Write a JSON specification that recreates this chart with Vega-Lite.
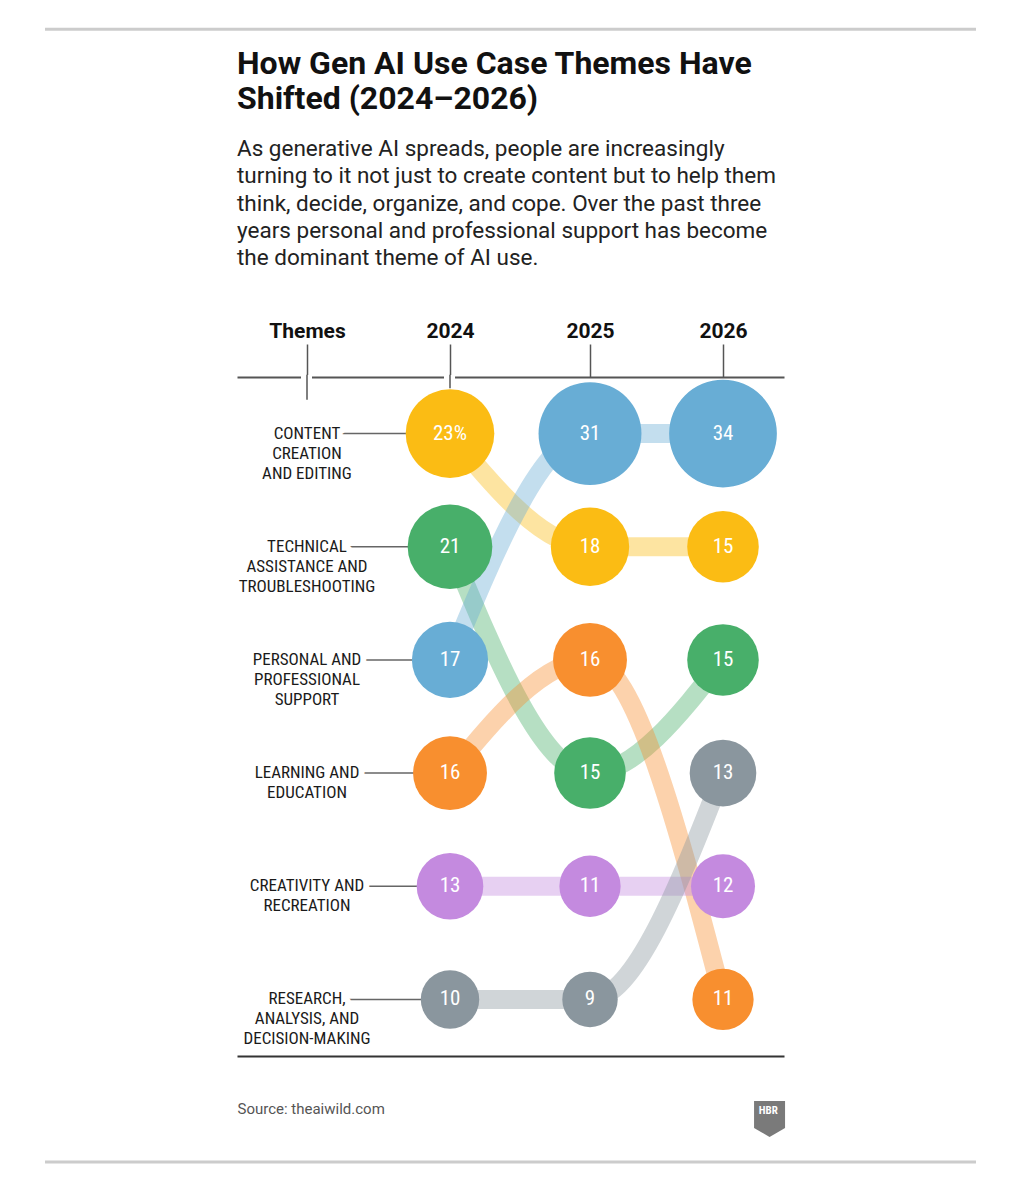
{
  "$schema": "https://vega.github.io/schema/vega-lite/v6.json",
  "width": 547,
  "height": 679,
  "autosize": {"type": "none"},
  "padding": {"left": 237, "top": 377, "right": 245, "bottom": 144},
  "background": "white",
  "config": {"view": {"stroke": null}, "font": "Roboto"},
  "title": {
    "text": ["How Gen AI Use Case Themes Have", "Shifted (2024–2026)"],
    "subtitle": ["As generative AI spreads, people are increasingly", "turning to it not just to create content but to help them", "think, decide, organize, and cope. Over the past three", "years personal and professional support has become", "the dominant theme of AI use."],
    "anchor": "start",
    "frame": "group",
    "orient": "top",
    "font": "Roboto",
    "fontSize": 32,
    "fontWeight": "bold",
    "color": "#111111",
    "lineHeight": 35,
    "subtitleFont": "Roboto",
    "subtitleFontSize": 22.5,
    "subtitleColor": "#222222",
    "subtitleLineHeight": 27.25,
    "subtitlePadding": 22,
    "offset": -243
  },
  "datasets": {
    "values": [
      {"theme": "Content creation and editing", "year": 2024, "rank": 1, "value": 23, "label": "23%"},
      {"theme": "Content creation and editing", "year": 2025, "rank": 2, "value": 18, "label": "18"},
      {"theme": "Content creation and editing", "year": 2026, "rank": 2, "value": 15, "label": "15"},
      {"theme": "Technical assistance and troubleshooting", "year": 2024, "rank": 2, "value": 21, "label": "21"},
      {"theme": "Technical assistance and troubleshooting", "year": 2025, "rank": 4, "value": 15, "label": "15"},
      {"theme": "Technical assistance and troubleshooting", "year": 2026, "rank": 3, "value": 15, "label": "15"},
      {"theme": "Personal and professional support", "year": 2024, "rank": 3, "value": 17, "label": "17"},
      {"theme": "Personal and professional support", "year": 2025, "rank": 1, "value": 31, "label": "31"},
      {"theme": "Personal and professional support", "year": 2026, "rank": 1, "value": 34, "label": "34"},
      {"theme": "Learning and education", "year": 2024, "rank": 4, "value": 16, "label": "16"},
      {"theme": "Learning and education", "year": 2025, "rank": 3, "value": 16, "label": "16"},
      {"theme": "Learning and education", "year": 2026, "rank": 6, "value": 11, "label": "11"},
      {"theme": "Creativity and recreation", "year": 2024, "rank": 5, "value": 13, "label": "13"},
      {"theme": "Creativity and recreation", "year": 2025, "rank": 5, "value": 11, "label": "11"},
      {"theme": "Creativity and recreation", "year": 2026, "rank": 5, "value": 12, "label": "12"},
      {"theme": "Research, analysis, and decision-making", "year": 2024, "rank": 6, "value": 10, "label": "10"},
      {"theme": "Research, analysis, and decision-making", "year": 2025, "rank": 6, "value": 9, "label": "9"},
      {"theme": "Research, analysis, and decision-making", "year": 2026, "rank": 4, "value": 13, "label": "13"}
    ],
    "rows": [
      {"rank": 1, "name": "CONTENT\nCREATION\nAND EDITING"},
      {"rank": 2, "name": "TECHNICAL\nASSISTANCE AND\nTROUBLESHOOTING"},
      {"rank": 3, "name": "PERSONAL AND\nPROFESSIONAL\nSUPPORT"},
      {"rank": 4, "name": "LEARNING AND\nEDUCATION"},
      {"rank": 5, "name": "CREATIVITY AND\nRECREATION"},
      {"rank": 6, "name": "RESEARCH,\nANALYSIS, AND\nDECISION-MAKING"}
    ]
  },
  "resolve": {"axis": {"x": "independent"}},
  "layer": [
    {
      "data": {"name": "values"},
      "mark": {"type": "line", "interpolate": "monotone", "strokeWidth": 19, "opacity": 0.4, "strokeJoin": "round"},
      "encoding": {
        "x": {
          "field": "year", "type": "quantitative",
          "scale": {"domain": [2022.5105, 2023, 2024, 2025, 2026, 2026.4586], "range": [0, 70, 213, 353, 486, 547], "zero": false, "nice": false},
          "axis": {
            "orient": "top", "values": [2023, 2024, 2025, 2026],
            "labelExpr": "datum.value == 2023 ? 'Themes' : format(datum.value, 'd')",
            "labelFont": "Roboto", "labelFontSize": 21, "labelFontWeight": "bold", "labelColor": "#111111",
            "labelPadding": 3, "labelFlush": false, "labelBound": false, "labelOverlap": false,
            "tickSize": 33, "tickColor": "#555555", "tickWidth": 1.5,
            "domainColor": "#555555", "domainWidth": 2, "grid": false, "title": null
          }
        },
        "y": {
          "field": "rank", "type": "quantitative",
          "scale": {"domain": [0.5, 6.5], "reverse": true, "nice": false, "zero": false},
          "axis": {
            "values": [1.5, 2.5, 3.5, 4.5, 5.5], "grid": true, "gridDash": [2, 3], "gridColor": "#999999", "gridWidth": 1.3,
            "labels": false, "ticks": false, "domain": false, "title": null
          }
        },
        "color": {
          "field": "theme", "type": "nominal", "legend": null,
          "scale": {
            "domain": ["Content creation and editing", "Technical assistance and troubleshooting", "Personal and professional support", "Learning and education", "Creativity and recreation", "Research, analysis, and decision-making"],
            "range": ["#FBBC14", "#48AF6A", "#68ADD5", "#F88F2F", "#C48ADF", "#8A969E"]
          }
        },
        "order": {"field": "year"}
      }
    },
    {
      "data": {"name": "rows"},
      "mark": {"type": "rule", "color": "#666666", "strokeWidth": 1.5},
      "encoding": {
        "x": {"datum": 2023, "type": "quantitative", "axis": null},
        "x2": {"datum": 2024},
        "y": {"field": "rank", "type": "quantitative", "axis": null}
      }
    },
    {
      "data": {"values": [{}]},
      "mark": {"type": "rule", "color": "white", "strokeWidth": 4},
      "encoding": {
        "x": {"datum": 2022.958, "type": "quantitative", "axis": null},
        "x2": {"datum": 2023.035},
        "y": {"datum": 0.5, "type": "quantitative", "axis": null}
      }
    },
    {
      "data": {"values": [{}]},
      "mark": {"type": "rule", "color": "white", "strokeWidth": 4},
      "encoding": {
        "x": {"datum": 2023.958, "type": "quantitative", "axis": null},
        "x2": {"datum": 2024.036},
        "y": {"datum": 0.5, "type": "quantitative", "axis": null}
      }
    },
    {
      "data": {"values": [{}]},
      "mark": {"type": "rule", "color": "#555555", "strokeWidth": 1.5},
      "encoding": {
        "x": {"datum": 2023, "type": "quantitative", "axis": null},
        "y": {"datum": 0.48, "type": "quantitative", "axis": null},
        "y2": {"datum": 0.7}
      }
    },
    {
      "data": {"values": [{}]},
      "mark": {"type": "rule", "color": "#555555", "strokeWidth": 1.5},
      "encoding": {
        "x": {"datum": 2024, "type": "quantitative", "axis": null},
        "y": {"datum": 0.48, "type": "quantitative", "axis": null},
        "y2": {"datum": 0.6}
      }
    },
    {
      "data": {"name": "values"},
      "mark": {"type": "point", "filled": true, "opacity": 1, "shape": "circle", "strokeWidth": 0},
      "encoding": {
        "x": {
          "field": "year", "type": "quantitative",
          "axis": {
            "orient": "bottom", "labels": false, "ticks": false, "grid": false, "domain": true,
            "domainColor": "#333333", "domainWidth": 2,
            "title": "Source: theaiwild.com", "titleAnchor": "start", "titleAlign": "left", "titleX": 0, "titleY": 57,
            "titleBaseline": "alphabetic", "titleFont": "Roboto", "titleFontSize": 15, "titleFontWeight": "normal", "titleColor": "#555555"
          }
        },
        "y": {"field": "rank", "type": "quantitative", "axis": null},
        "size": {"field": "value", "type": "quantitative", "legend": null, "scale": {"type": "linear", "domain": [0, 23], "range": [0, 7854], "zero": true}},
        "color": {"field": "theme", "type": "nominal", "legend": null}
      }
    },
    {
      "data": {"name": "values"},
      "mark": {"type": "text", "color": "white", "fontSize": 21, "font": "Roboto Condensed, Liberation Sans Narrow, DejaVu Sans Condensed, Roboto", "align": "center", "baseline": "middle"},
      "encoding": {
        "x": {"field": "year", "type": "quantitative", "axis": null},
        "y": {"field": "rank", "type": "quantitative", "axis": null},
        "text": {"field": "label"}
      }
    },
    {
      "data": {"name": "rows"},
      "mark": {"type": "text", "color": "white", "stroke": "white", "strokeWidth": 12, "strokeJoin": "round", "fontSize": 17, "lineHeight": 20, "lineBreak": "\n", "font": "Roboto Condensed, Liberation Sans Narrow, DejaVu Sans Condensed, Roboto", "align": "center", "baseline": "middle"},
      "encoding": {
        "x": {"datum": 2023, "type": "quantitative", "axis": null},
        "y": {"field": "rank", "type": "quantitative", "axis": null},
        "text": {"field": "name"}
      }
    },
    {
      "data": {"name": "rows"},
      "mark": {"type": "text", "color": "#1a1a1a", "fontSize": 17, "lineHeight": 20, "lineBreak": "\n", "font": "Roboto Condensed, Liberation Sans Narrow, DejaVu Sans Condensed, Roboto", "align": "center", "baseline": "middle"},
      "encoding": {
        "x": {"datum": 2023, "type": "quantitative", "axis": null},
        "y": {"field": "rank", "type": "quantitative", "axis": null},
        "text": {"field": "name"}
      }
    },
    {
      "data": {"values": [{}]},
      "mark": {"type": "rule", "color": "#cccccc", "strokeWidth": 3},
      "encoding": {
        "x": {"datum": 2021.168, "type": "quantitative", "axis": null},
        "x2": {"datum": 2027.902},
        "y": {"datum": -2.574, "type": "quantitative", "axis": null}
      }
    },
    {
      "data": {"values": [{}]},
      "mark": {"type": "rule", "color": "#cccccc", "strokeWidth": 3},
      "encoding": {
        "x": {"datum": 2021.168, "type": "quantitative", "axis": null},
        "x2": {"datum": 2027.902},
        "y": {"datum": 7.436, "type": "quantitative", "axis": null}
      }
    },
    {
      "data": {"values": [{}]},
      "mark": {"type": "point", "filled": true, "opacity": 1, "color": "#7a7a7a", "strokeWidth": 0, "size": 961, "shape": "M -1 -1.16 L 1 -1.16 L 1 0.58 L 0 1.16 L -1 0.58 Z"},
      "encoding": {
        "x": {"datum": 2026.35, "type": "quantitative", "axis": null},
        "y": {"datum": 7.056, "type": "quantitative", "axis": null}
      }
    },
    {
      "data": {"values": [{"logo": "HBR"}]},
      "mark": {"type": "text", "color": "white", "fontSize": 11, "fontWeight": "bold", "font": "Roboto Condensed, Liberation Sans Narrow, DejaVu Sans Condensed, Roboto", "align": "center", "baseline": "middle"},
      "encoding": {
        "x": {"datum": 2026.34, "type": "quantitative", "axis": null},
        "y": {"datum": 6.985, "type": "quantitative", "axis": null},
        "text": {"field": "logo"}
      }
    }
  ]
}
